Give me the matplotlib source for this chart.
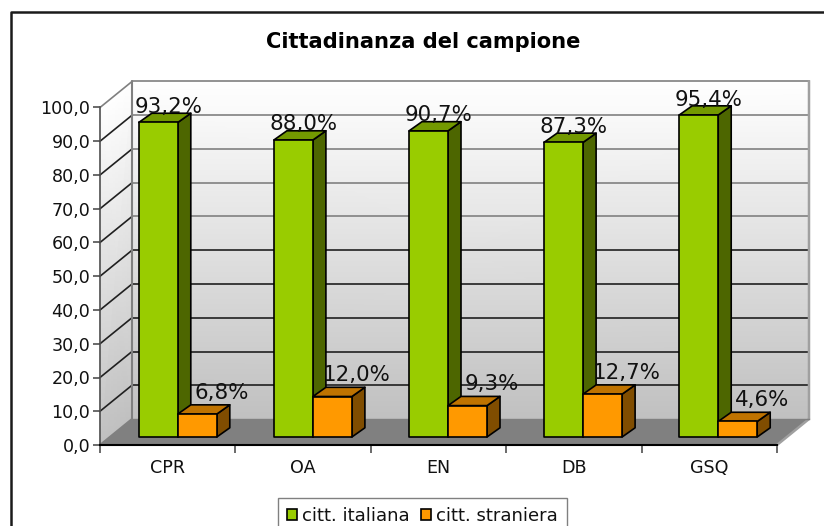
import numpy as np
import matplotlib
matplotlib.use("Agg")
import matplotlib.pyplot as plt
from matplotlib.colors import LinearSegmentedColormap
from matplotlib.patches import Patch, Polygon, Rectangle

categories = ["CPR", "OA", "EN", "DB", "GSQ"]
italiana = [93.2, 88.0, 90.7, 87.3, 95.4]
straniera = [6.8, 12.0, 9.3, 12.7, 4.6]
y_ticks = [0, 10, 20, 30, 40, 50, 60, 70, 80, 90, 100]

W, H = 824, 526
# front plane of the 3d box, in pixels
PX_L, PX_R, PY_TOP, PY_BOT = 100, 777, 107.5, 445
UX = (PX_R - PX_L) / 5
UY = (PY_BOT - PY_TOP) / 100

fig = plt.figure(figsize=(W / 100, H / 100), dpi=100)
ax = fig.add_axes([PX_L / W, 1 - PY_BOT / H, (PX_R - PX_L) / W, (PY_BOT - PY_TOP) / H])
ax.set_xlim(0, 5)
ax.set_ylim(0, 100)
ax.patch.set_visible(False)

# wall depth, bar depth
DX = 32 / UX
DY = 26 / UY
bar_dx = 13 / UX
bar_dy = 9.2 / UY
bar_w = 39 / UX
bar_x0 = 38.8 / UX
bar_step = 135.1 / UX
bar_y0 = 8 / UY

wall_cmap = LinearSegmentedColormap.from_list("wall", ["#c0c0c0", "#ffffff"])
v = np.array([0.0, 100.0])
c = np.array([[0, 0], [1, 1]], dtype=float)

# side wall and back wall gradient
X, Y = np.meshgrid([0, DX], v)
Y = Y + np.array([[0, DY], [0, DY]])
ax.pcolormesh(X, Y, c, cmap=wall_cmap, shading="gouraud", clip_on=False, zorder=1)
X, Y = np.meshgrid([DX, 5 + DX], v + DY)
ax.pcolormesh(X, Y, c, cmap=wall_cmap, shading="gouraud", clip_on=False, zorder=1)

# floor
ax.add_patch(Polygon([(0, 0), (DX, DY), (5 + DX, DY), (5, 0)], fc="#808080", ec="none",
                     clip_on=False, zorder=1.5))

# grid on the walls
for t in y_ticks[1:]:
    col = "#808080" if t >= 60 else "#202020"
    ax.plot([DX, 5 + DX], [t + DY, t + DY], color=col, lw=1.2, clip_on=False, zorder=2)
    ax.plot([0, DX], [t, t + DY], color="#202020" if t < 100 else "#808080", lw=1.2,
            clip_on=False, zorder=2)
ax.plot([0, DX, DX], [0, DY, 100 + DY], color="#808080", lw=1.5, clip_on=False, zorder=2)
ax.plot([5, 5 + DX, 5 + DX], [0, DY, 100 + DY], color="#a0a0a0", lw=1.8, clip_on=False, zorder=2)
ax.plot([DX, 5 + DX], [DY, DY], color="#808080", lw=1, clip_on=False, zorder=2)


def bar3d(x, val, front, top, side, z):
    y0 = bar_y0
    y1 = bar_y0 + val
    kw = dict(ec="black", lw=1.2, clip_on=False, zorder=z, joinstyle="round")
    ax.add_patch(Polygon([(x + bar_w, y0), (x + bar_w + bar_dx, y0 + bar_dy),
                          (x + bar_w + bar_dx, y1 + bar_dy), (x + bar_w, y1)], fc=side, **kw))
    ax.add_patch(Polygon([(x, y1), (x + bar_dx, y1 + bar_dy),
                          (x + bar_w + bar_dx, y1 + bar_dy), (x + bar_w, y1)], fc=top, **kw))
    ax.add_patch(Rectangle((x, y0), bar_w, val, fc=front, **kw))


for i in range(len(categories)):
    x = i * bar_step + bar_x0
    bar3d(x, italiana[i], "#99cc00", "#739900", "#4d6600", 3 + i * 0.1)
    bar3d(x + bar_w, straniera[i], "#ff9900", "#bf7300", "#804d00", 3.05 + i * 0.1)
    ax.text(x + bar_w / 2 + 10 / UX, bar_y0 + italiana[i] + 9.5 / UY, f"{italiana[i]:.1f}%".replace(".", ","),
            ha="center", va="baseline", fontsize=15.4, color="#111111", zorder=6, clip_on=False)
    ax.text(x + bar_w * 1.5 + 24 / UX, bar_y0 + straniera[i] + 15.5 / UY, f"{straniera[i]:.1f}%".replace(".", ","),
            ha="center", va="baseline", fontsize=15.4, color="#111111", zorder=6, clip_on=False)

# axes
for s in ["top", "right"]:
    ax.spines[s].set_visible(False)
ax.spines["left"].set_color("#505050")
ax.spines["left"].set_linewidth(1.2)
ax.spines["bottom"].set_color("black")
ax.spines["bottom"].set_linewidth(1.5)
for s in ax.spines.values():
    s.set_zorder(2.5)
ax.set_yticks(y_ticks)
ax.set_yticklabels([f"{t:.1f}".replace(".", ",") for t in y_ticks], fontsize=12.6, color="#111111")
ax.set_xticks(range(6))
ax.set_xticklabels([])
ax.set_xticks(np.arange(5) + 0.5, minor=True)
ax.set_xticklabels(categories, minor=True, fontsize=12.6, color="#111111")
ax.tick_params(axis="x", which="minor", length=0, pad=10)
ax.tick_params(axis="x", which="major", length=6, width=1.2, color="#505050")
ax.tick_params(axis="y", length=5, width=1.2, color="#505050", pad=2)

# outer frame, cropped by the image on the right and bottom
fig.add_artist(plt.Line2D([10.5 / W, 10.5 / W, 1], [0, 1 - 12 / H, 1 - 12 / H], color="#1a1a1a", lw=1.8))

fig.text(423 / W, 1 - 42 / H, "Cittadinanza del campione", ha="center", va="center",
         fontsize=15.1, fontweight="bold", color="black")

handles = [Patch(fc="#99cc00", ec="black", lw=1.2), Patch(fc="#ff9900", ec="black", lw=1.2)]
fig.legend(handles, ["citt. italiana", "citt. straniera"], ncol=2, loc="upper left",
           bbox_to_anchor=(278 / W, 1 - 498 / H), borderaxespad=0, fontsize=13,
           frameon=True, fancybox=False, edgecolor="#808080", framealpha=1, borderpad=0.5,
           handlelength=0.55, handleheight=0.6, handletextpad=0.3, columnspacing=0.6,
           labelcolor="#111111")

fig.savefig("out.png", dpi=100)
plt.close(fig)
